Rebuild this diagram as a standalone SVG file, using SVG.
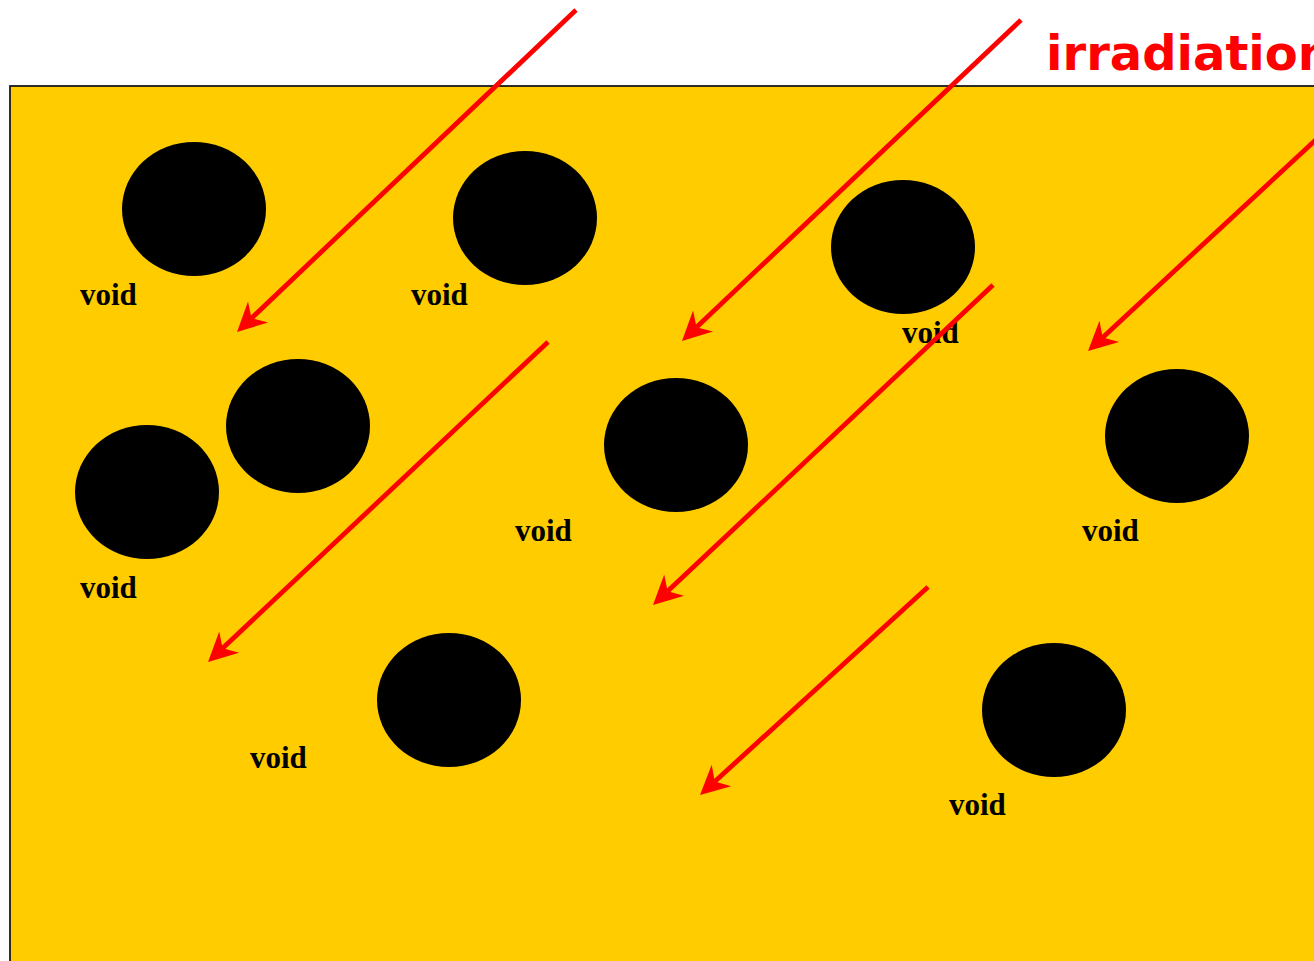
<svg xmlns="http://www.w3.org/2000/svg" width="1314" height="961" viewBox="0 0 1314 961">
  <style>
    .void { fill: #000000; }
    .label { font-family: "Liberation Serif", "DejaVu Serif", serif; font-weight: bold; font-size: 31px; fill: #000000; }
    .ray { stroke: #FF0000; stroke-width: 4.8; fill: none; marker-end: url(#head); }
    .title { font-family: "DejaVu Sans", "Liberation Sans", sans-serif; font-weight: bold; font-size: 48px; fill: #FF0000; }
  </style>
  <defs>
    <marker id="head" markerUnits="userSpaceOnUse" orient="auto" refX="0" refY="0" markerWidth="40" markerHeight="40" overflow="visible">
      <path d="M20,0 L-9,-14.5 L0,0 L-9,14.5 Z" fill="#FF0000"/>
    </marker>
  </defs>

  <rect width="1314" height="961" fill="#FFFFFF"/>

  <!-- material block -->
  <rect id="block" x="10" y="86" width="1320" height="890" fill="#FFCC00" stroke="#1a1a1a" stroke-width="1.8"/>

  <!-- voids -->
  <g id="void1"><ellipse class="void" cx="194" cy="209" rx="72" ry="67"/><text class="label" x="80" y="305">void</text></g>
  <g id="void2"><ellipse class="void" cx="525" cy="218" rx="72" ry="67"/><text class="label" x="411" y="305">void</text></g>
  <g id="void3"><ellipse class="void" cx="903" cy="247" rx="72" ry="67"/><text class="label" x="902" y="343">void</text></g>
  <g id="void4"><ellipse class="void" cx="298" cy="426" rx="72" ry="67"/></g>
  <g id="void5"><ellipse class="void" cx="147" cy="492" rx="72" ry="67"/><text class="label" x="80" y="598">void</text></g>
  <g id="void6"><ellipse class="void" cx="676" cy="445" rx="72" ry="67"/><text class="label" x="515" y="541">void</text></g>
  <g id="void7"><ellipse class="void" cx="1177" cy="436" rx="72" ry="67"/><text class="label" x="1082" y="541">void</text></g>
  <g id="void8"><ellipse class="void" cx="449" cy="700" rx="72" ry="67"/><text class="label" x="250" y="768">void</text></g>
  <g id="void9"><ellipse class="void" cx="1054" cy="710" rx="72" ry="67"/><text class="label" x="949" y="815">void</text></g>

  <!-- irradiation rays -->
  <g id="rays">
    <line class="ray" x1="576" y1="10" x2="251.5" y2="318.2"/>
    <line class="ray" x1="1021" y1="20" x2="696.5" y2="327.2"/>
    <line class="ray" x1="1320" y1="136" x2="1102.7" y2="337.4"/>
    <line class="ray" x1="548" y1="342" x2="222.6" y2="648.3"/>
    <line class="ray" x1="993" y1="285" x2="667.6" y2="591.3"/>
    <line class="ray" x1="928" y1="587" x2="714.8" y2="781.5"/>
  </g>

  <g id="title"><text class="title" x="1046" y="70">irradiation</text></g>
</svg>
